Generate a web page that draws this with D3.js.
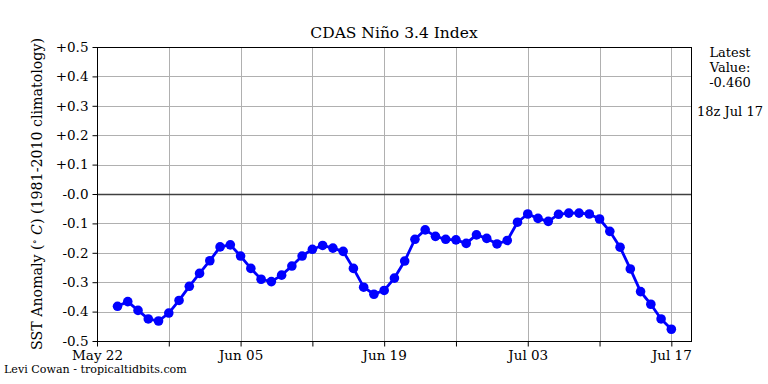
<!DOCTYPE html>
<html lang="en">
<head>
  <meta charset="UTF-8">
  <title>CDAS Nino 3.4 Index</title>
  <style>
    body { margin: 0; background: #fff; }
    svg { font-family: "DejaVu Serif", serif; }
    .grid line { stroke: #b0b0b0; stroke-width: 1; }
    .axis path, .axis line { stroke: #000; }
    .axis text { font-family: "DejaVu Serif", serif; font-size: 13.5px; fill: #000; }
  </style>
</head>
<body>
  <svg id="chart" width="768" height="384"></svg>
  <script src="https://cdn.jsdelivr.net/npm/d3@7"></script>
  <script>
    // daily values, May 24 .. Jul 17
    const startDay = '2019-05-24'
    const values = [
      -0.382, -0.366, -0.396, -0.425, -0.432, -0.405, -0.362, -0.314, -0.270, -0.227,
      -0.180, -0.173, -0.211, -0.253, -0.290, -0.298, -0.276, -0.245, -0.211, -0.188,
      -0.175, -0.184, -0.195, -0.253, -0.317, -0.341, -0.328, -0.286, -0.228, -0.154,
      -0.122, -0.144, -0.154, -0.156, -0.168, -0.139, -0.151, -0.170, -0.158, -0.096,
      -0.068, -0.083, -0.093, -0.069, -0.065, -0.065, -0.068, -0.085, -0.127, -0.181,
      -0.255, -0.332, -0.375, -0.425, -0.460
    ]
    const majorTicks = ['2019-05-22', '2019-06-05', '2019-06-19', '2019-07-03', '2019-07-17']
    const minorTicks = ['2019-05-29', '2019-06-12', '2019-06-26', '2019-07-10']
    const yTicks = [0.5, 0.4, 0.3, 0.2, 0.1, 0, -0.1, -0.2, -0.3, -0.4, -0.5]
    const yTickLabels = ['+0.5', '+0.4', '+0.3', '+0.2', '+0.1', '-0.0', '-0.1', '-0.2', '-0.3', '-0.4', '-0.5']
    const latestLines = ['Latest', 'Value:', '-0.460']
    const latestTime = '18z Jul 17'

    const parse = d3.utcParse('%Y-%m-%d')
    const t0 = parse(startDay)
    const data = values.map((v, i) => ({ date: d3.utcDay.offset(t0, i), v: v }))

    const margin = { left: 97, right: 77, top: 47, bottom: 43 }
    const W = 768, H = 384
    const svg = d3.select('#chart')

    const x = d3.scaleUtc()
      .domain([parse('2019-05-22'), d3.utcHour.offset(parse('2019-07-18'), 22)])
      .range([margin.left, W - margin.right])
    const y = d3.scaleLinear()
      .domain([-0.5, 0.5])
      .range([H - margin.bottom, margin.top])

    const allX = majorTicks.concat(minorTicks).map(parse)

    // grid
    const grid = svg.append('g').attr('class', 'grid')
    grid.selectAll('.gx').data(allX).enter().append('line')
      .attr('x1', d => Math.round(x(d)) + 0.5).attr('x2', d => Math.round(x(d)) + 0.5)
      .attr('y1', y(0.5)).attr('y2', y(-0.5))
    grid.selectAll('.gy').data(yTicks).enter().append('line')
      .attr('x1', x.range()[0]).attr('x2', x.range()[1])
      .attr('y1', d => Math.round(y(d)) + 0.5).attr('y2', d => Math.round(y(d)) + 0.5)

    // zero line
    svg.append('line')
      .attr('x1', x.range()[0]).attr('x2', x.range()[1])
      .attr('y1', Math.round(y(0)) + 0.5).attr('y2', Math.round(y(0)) + 0.5)
      .attr('stroke', '#404040').attr('stroke-width', 1.3)

    // series
    const line = d3.line().x(d => x(d.date)).y(d => y(d.v))
    svg.append('path').datum(data)
      .attr('d', line)
      .attr('fill', 'none')
      .attr('stroke', '#0000ff')
      .attr('stroke-width', 2.8)
      .attr('stroke-linejoin', 'round')
    svg.selectAll('.dot').data(data).enter().append('circle')
      .attr('cx', d => x(d.date)).attr('cy', d => y(d.v))
      .attr('r', 4.8).attr('fill', '#0000ff')

    // frame
    svg.append('rect')
      .attr('x', x.range()[0] + 0.5).attr('y', y(0.5) + 0.5)
      .attr('width', x.range()[1] - x.range()[0]).attr('height', y(-0.5) - y(0.5))
      .attr('fill', 'none').attr('stroke', '#000').attr('stroke-width', 1)

    // axes
    const xAxis = d3.axisBottom(x)
      .tickValues(allX)
      .tickSize(5).tickPadding(4)
      .tickFormat(d => majorTicks.map(parse).some(m => +m === +d) ? d3.utcFormat('%b %d')(d) : '')
    svg.append('g').attr('class', 'axis')
      .attr('transform', `translate(0,${H - margin.bottom + 0.5})`)
      .call(xAxis)
      .call(g => g.select('.domain').remove())

    const yAxis = d3.axisLeft(y)
      .tickValues(yTicks)
      .tickSize(5).tickPadding(4)
      .tickFormat((d, i) => yTickLabels[i])
    svg.append('g').attr('class', 'axis')
      .attr('transform', `translate(${margin.left + 0.5},0)`)
      .call(yAxis)
      .call(g => g.select('.domain').remove())

    // title
    svg.append('text')
      .attr('x', (x.range()[0] + x.range()[1]) / 2).attr('y', 38)
      .attr('text-anchor', 'middle').attr('font-size', 15.5)
      .text('CDAS Niño 3.4 Index')

    // y label
    const yl = svg.append('text')
      .attr('transform', `translate(42,${(y(0.5) + y(-0.5)) / 2}) rotate(-90)`)
      .attr('text-anchor', 'middle').attr('font-size', 14.2)
    yl.append('tspan').text('SST Anomaly (')
    yl.append('tspan').attr('font-size', 10).attr('dy', -4).text('∘')
    yl.append('tspan').attr('dy', 4).attr('font-style', 'italic').text(' C')
    yl.append('tspan').text(') (1981-2010 climatology)')

    // latest value
    const lx = 730
    svg.selectAll('.latest').data(latestLines).enter().append('text')
      .attr('x', lx).attr('y', (d, i) => 57 + i * 15)
      .attr('text-anchor', 'middle').attr('font-size', 13)
      .text(d => d)
    svg.append('text')
      .attr('x', lx).attr('y', 116)
      .attr('text-anchor', 'middle').attr('font-size', 13)
      .text(latestTime)

    // credit
    svg.append('text')
      .attr('x', 4).attr('y', 373)
      .attr('font-size', 11.1)
      .text('Levi Cowan - tropicaltidbits.com')
  </script>
</body>
</html>
